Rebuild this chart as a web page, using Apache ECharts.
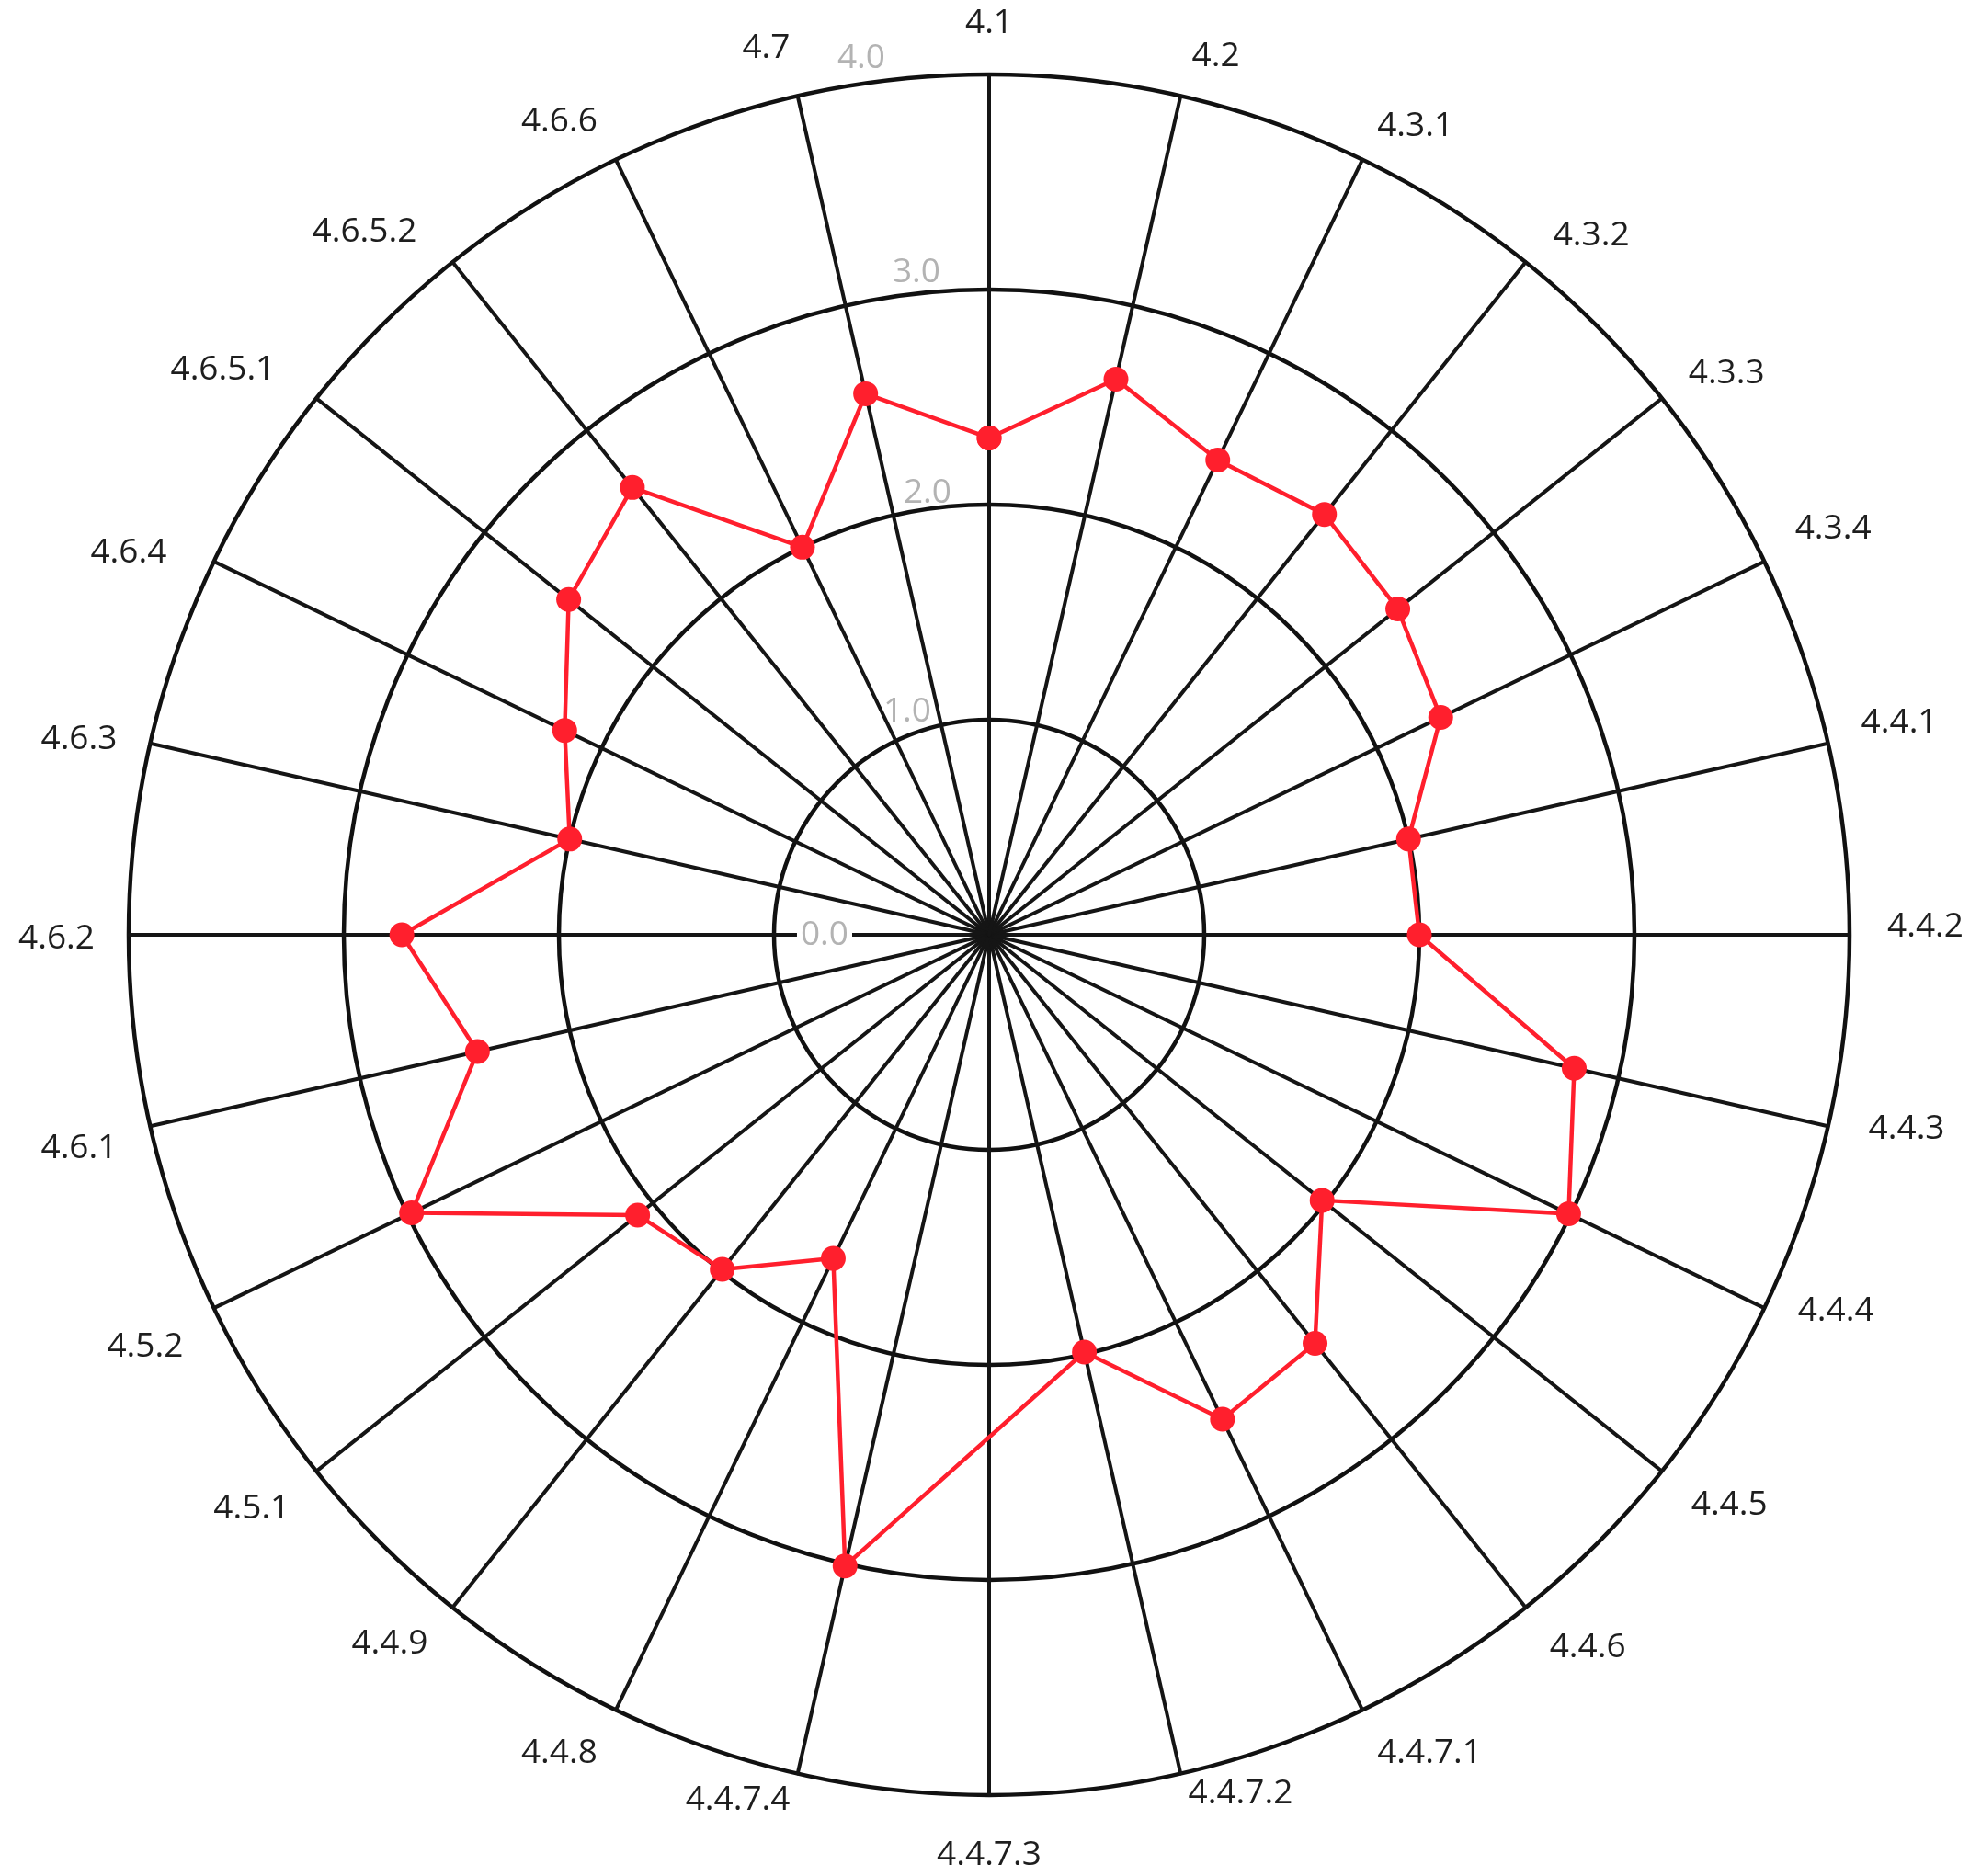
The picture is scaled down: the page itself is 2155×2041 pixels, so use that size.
<!DOCTYPE html>
<html>
<head>
<meta charset="utf-8">
<script src="https://cdn.jsdelivr.net/npm/echarts@6/dist/echarts.min.js"></script>
<style>
html,body{margin:0;padding:0;background:#fff;}
#chart{width:2155px;height:2041px;}
</style>
</head>
<body>
<div id="chart"></div>
<script>
// ---- data ----
const categories = ['4.1','4.2','4.3.1','4.3.2','4.3.3','4.3.4','4.4.1','4.4.2','4.4.3','4.4.4','4.4.5','4.4.6','4.4.7.1','4.4.7.2','4.4.7.3','4.4.7.4','4.4.8','4.4.9','4.5.1','4.5.2','4.6.1','4.6.2','4.6.3','4.6.4','4.6.5.1','4.6.5.2','4.6.6','4.7'];
const scores = [2.31,2.65,2.45,2.50,2.43,2.33,2.00,2.00,2.79,2.99,1.98,2.43,2.50,1.99,null,3.01,1.67,1.99,2.09,2.98,2.44,2.73,2.00,2.19,2.50,2.66,2.00,2.58];
const tickLabels = ['0.0','1.0','2.0','3.0','4.0'];
const axisMax = 4;

// ---- layout / style ----
const CX = 1076, CY = 1017, R = 936;
const RED = '#ff1f2d';
const GRAY = '#b3b3b3';
const FONT = 'Open Sans';
// per-label spacer widths and vertical lifts for the radial tick labels
const spacer = [149, 63, 41, 53, 113];
const lift = [0, 18, 26, 38, 36];
// small per-name nudges (px) of the indicator names, in category order
const nameDx = [0,4,0,7,0,0,0,4,8,3,3,3,0,0,0,0,-4,-4,0,0,0,0,0,-18,-16,-16,-4,0];
const nameDy = [0,-7,-3,0,-4,-19,-14,-9,-5,-13,14,15,14,-14,10,-7,14,11,18,26,16,4,4,7,-8,-4,-8,-16];

const rich = {};
tickLabels.forEach(function (t, i) {
  rich['t' + i] = {
    color: GRAY, fontSize: 37, fontFamily: FONT,
    padding: i === 0 ? [0, 4, 0, 4] : [0, 0, lift[i], 0],
    backgroundColor: i === 0 ? '#fff' : 'transparent'
  };
  rich['g' + i] = { width: spacer[i], fontSize: 37, fontFamily: FONT, color: 'transparent' };
});

const nameRich = {};
categories.forEach(function (n, i) {
  const dx = nameDx[i], dy = nameDy[i];
  let pt = 0, pb = 0;
  if (i === 0 || i === 14) {           // top/bottom names are bottom/top aligned
    pt = dy > 0 ? dy : 0; pb = dy < 0 ? -dy : 0;
  } else {                              // middle aligned
    pt = dy > 0 ? 2 * dy : 0; pb = dy < 0 ? -2 * dy : 0;
  }
  nameRich['n' + i] = {
    color: '#1e1e1e', fontSize: 37, fontFamily: FONT,
    padding: [pt, dx < 0 ? -dx : 0, pb, dx > 0 ? dx : 0]
  };
});

// radar indicators go counter-clockwise; reverse to get the clockwise order
const radarOrder = [categories[0]].concat(categories.slice(1).reverse());
const indicators = radarOrder.map(function (n, k) {
  const ind = { name: n, min: 0, max: axisMax };
  if (k === 0) {
    ind.axisLabel = {
      show: true, margin: 0, align: 'right', verticalAlign: 'middle',
      color: GRAY, fontSize: 37, fontFamily: FONT,
      formatter: function (v) {
        const i = Math.round(v);
        return '{t' + i + '|' + tickLabels[i] + '}{g' + i + '| }';
      },
      rich: rich
    };
  }
  return ind;
});

const points = [];
scores.forEach(function (v, i) { if (v != null) points.push([v, i]); });
points.push([scores[0], categories.length]);

const chart = echarts.init(document.getElementById('chart'));
chart.setOption({
  animation: false,
  backgroundColor: '#fff',
  radar: {
    center: [CX, CY],
    radius: R,
    shape: 'circle',
    startAngle: 90,
    splitNumber: 4,
    indicator: indicators,
    nameGap: 37,
    axisName: {
      color: '#1e1e1e', fontSize: 37, fontFamily: FONT,
      formatter: function (name) {
        return '{n' + categories.indexOf(name) + '|' + name + '}';
      },
      rich: nameRich
    },
    axisLine: { lineStyle: { color: '#151515', width: 4 } },
    splitLine: { lineStyle: { color: '#111', width: 4.5 } },
    splitArea: { show: false },
    axisTick: { show: false },
    axisLabel: { show: false }
  },
  polar: { center: [CX, CY], radius: R },
  angleAxis: {
    type: 'value', min: 0, max: categories.length, startAngle: 90, clockwise: true,
    show: false
  },
  radiusAxis: { type: 'value', min: 0, max: axisMax, show: false },
  series: [{
    type: 'line',
    coordinateSystem: 'polar',
    data: points,
    symbol: 'circle',
    symbolSize: 27,
    showAllSymbol: true,
    lineStyle: { color: RED, width: 4.5 },
    itemStyle: { color: RED },
    z: 5
  }]
});
</script>
</body>
</html>
